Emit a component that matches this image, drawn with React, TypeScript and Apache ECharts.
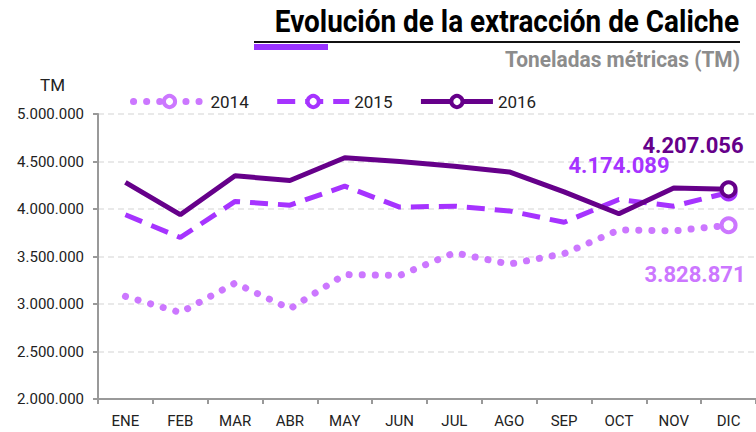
import React, { useEffect, useRef } from "react";
import * as echarts from "echarts";

const months = ["ENE", "FEB", "MAR", "ABR", "MAY", "JUN", "JUL", "AGO", "SEP", "OCT", "NOV", "DIC"];
const s2014 = [3080000, 2910000, 3220000, 2950000, 3310000, 3300000, 3540000, 3420000, 3530000, 3780000, 3770000, 3828871];
const s2015 = [3940000, 3700000, 4080000, 4040000, 4240000, 4020000, 4030000, 3980000, 3860000, 4100000, 4030000, 4174089];
const s2016 = [4280000, 3940000, 4350000, 4300000, 4540000, 4500000, 4450000, 4390000, 4180000, 3950000, 4220000, 4207056];
const seriesNames = ["2014", "2015", "2016"];
const colors = ["#cc77ff", "#a633ff", "#66008a"];

const NARROW = "'Liberation Sans Narrow', 'Arial Narrow', 'Roboto', sans-serif";

function fmt(v: number): string {
  return Math.round(v).toString().replace(/\B(?=(\d{3})+(?!\d))/g, ".");
}

export default function App() {
  const ref = useRef<HTMLDivElement>(null);
  useEffect(() => {
    if (!ref.current) return;
    const chart = echarts.init(ref.current, undefined, { renderer: "svg" });
    const last = months.length - 1;
    const mkSeries = (name: string, data: number[], color: string, lineStyle: any, labelCfg: any) => ({
      name,
      type: "line",
      data: data.map((v, i) =>
        i === last
          ? {
              value: v,
              symbol: "circle",
              symbolSize: 14,
              itemStyle: { color: "#fff", borderColor: color, borderWidth: 4 },
              label: {
                show: true,
                formatter: (p: any) => fmt(p.value),
                color,
                fontFamily: NARROW,
                fontWeight: "bold",
                fontSize: 22,
                ...labelCfg,
              },
            }
          : { value: v, symbol: "none" }
      ),
      showSymbol: true,
      symbol: "circle",
      symbolSize: 14,
      itemStyle: { color: "#fff", borderColor: color, borderWidth: 4 },
      lineStyle: { color, width: 5, ...lineStyle },
      z: name === "2016" ? 5 : name === "2015" ? 4 : 3,
    });

    chart.setOption({
      animation: false,
      textStyle: { fontFamily: NARROW },
      grid: { left: 98, top: 114, bottom: 33, right: -3, containLabel: false },
      legend: {
        left: 125,
        top: 88,
        itemWidth: 72,
        itemHeight: 14,
        itemGap: 26,
        lineStyle: { width: 5 },
        itemStyle: { borderWidth: 4 },
        data: [
          { name: seriesNames[0], lineStyle: { width: 7 } },
          { name: seriesNames[1] },
          { name: seriesNames[2] },
        ],
        textStyle: { fontFamily: NARROW, fontSize: 17, color: "#222" },
      },
      xAxis: {
        type: "category",
        data: months,
        boundaryGap: true,
        axisLine: { lineStyle: { color: "#999", width: 2 } },
        axisTick: { show: true, lineStyle: { color: "#999", width: 2 }, length: 5 },
        axisLabel: { color: "#222", fontSize: 15, fontFamily: NARROW, margin: 14 },
      },
      yAxis: {
        type: "value",
        min: 2000000,
        max: 5000000,
        interval: 500000,
        axisLine: { show: true, lineStyle: { color: "#999", width: 2 } },
        axisTick: { show: true, lineStyle: { color: "#999", width: 2 }, length: 5 },
        axisLabel: { color: "#222", fontSize: 15, fontFamily: NARROW, margin: 14, formatter: (v: number) => fmt(v) },
        splitLine: { show: true, lineStyle: { color: "#e2e2e2", type: [6, 4], width: 1.5 } },
      },
      series: [
        mkSeries("2014", s2014, colors[0], { type: [0.1, 13], cap: "round", width: 7 }, { position: "bottom", align: "right", offset: [17, 24] }),
        mkSeries("2015", s2015, colors[1], { type: [18, 10] }, { position: "top", align: "right", offset: [-59, -2] }),
        mkSeries("2016", s2016, colors[2], { type: "solid" }, { position: "top", align: "right", offset: [15, -19] }),
      ],
      graphic: [
        {
          type: "text",
          x: 739,
          y: 6,
          scaleX: 0.9,
          style: {
            text: "Evolución de la extracción de Caliche",
            fontFamily: NARROW,
            fontWeight: "bold",
            fontSize: 31,
            fill: "#000",
            align: "right",
            textAlign: "right",
          },
        },
        {
          type: "rect",
          shape: { x: 254, y: 41, width: 486, height: 2 },
          style: { fill: "#111" },
        },
        {
          type: "rect",
          shape: { x: 254, y: 44, width: 74, height: 6 },
          style: { fill: "#9933ff" },
        },
        {
          type: "text",
          x: 740,
          y: 48,
          scaleX: 0.95,
          style: {
            text: "Toneladas métricas (TM)",
            fontFamily: NARROW,
            fontWeight: "bold",
            fontSize: 22,
            fill: "#8c8c8c",
            align: "right",
            textAlign: "right",
          },
        },
        {
          type: "text",
          left: 40,
          top: 76,
          style: { text: "TM", fontFamily: NARROW, fontSize: 17, fill: "#222" },
        },
      ],
    });
    return () => chart.dispose();
  }, []);
  return <div ref={ref} style={{ width: 756, height: 432, position: "absolute", left: 0, top: 0 }} />;
}
